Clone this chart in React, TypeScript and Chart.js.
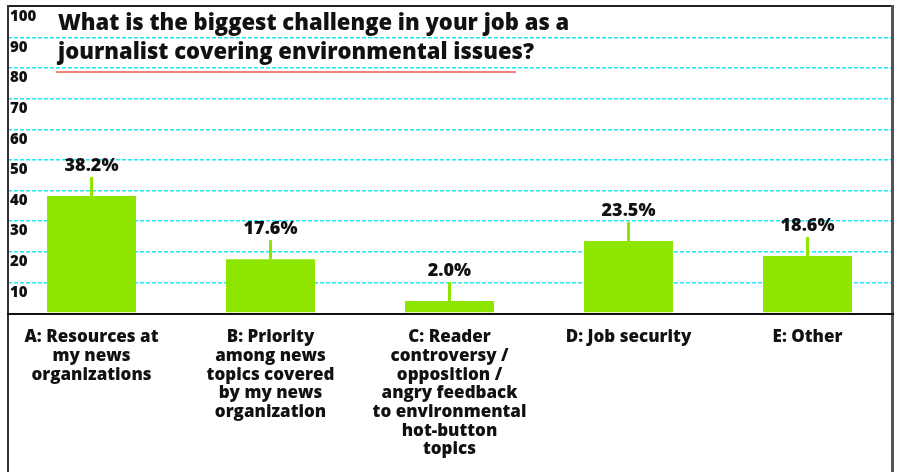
import React, { useEffect, useRef } from 'react';
import { Chart, registerables } from 'chart.js';

Chart.register(...registerables);

const categories: string[][] = [
  ['A: Resources at', 'my news', 'organizations'],
  ['B: Priority', 'among news', 'topics covered', 'by my news', 'organization'],
  ['C: Reader', 'controversy /', 'opposition /', 'angry feedback', 'to environmental', 'hot-button', 'topics'],
  ['D: Job security'],
  ['E: Other'],
];
const values: number[] = [38.2, 17.6, 2.0, 23.5, 18.6];
const valueLabels: string[] = ['38.2%', '17.6%', '2.0%', '23.5%', '18.6%'];
const titleLines: string[] = [
  'What is the biggest challenge in your job as a',
  'journalist covering environmental issues?',
];
const yMin = 0;
const yMax = 100;
const yStep = 10;

const FONT = '"Open Sans", "Liberation Sans", sans-serif';
const WEIGHT = '800';
const BAR_COLOR = '#8ee600';
const GRID_COLOR = '#1ee8f2';

const decorPlugin = {
  id: 'decor',
  afterDatasetsDraw(chart: any) {
    const ctx = chart.ctx;
    const meta = chart.getDatasetMeta(0);
    ctx.save();
    meta.data.forEach((bar: any, i: number) => {
      ctx.fillStyle = BAR_COLOR;
      ctx.fillRect(bar.x - 1.5, bar.y - 19, 3, 19);
      ctx.fillStyle = '#111';
      ctx.font = `${WEIGHT} 18px ${FONT}`;
      ctx.textAlign = 'center';
      ctx.textBaseline = 'middle';
      ctx.fillText(valueLabels[i], bar.x, bar.y - 30);
    });
    ctx.restore();
  },
  afterDraw(chart: any) {
    const ctx = chart.ctx;
    const y = chart.scales.y;
    const W = chart.width;
    const H = chart.height;
    ctx.save();
    ctx.fillStyle = '#fff';
    ctx.fillRect(0, 0, 7, H);
    ctx.fillRect(894, 0, W - 894, H);
    ctx.fillRect(0, 0, W, 5);
    ctx.fillStyle = '#222';
    ctx.fillRect(7, 5, 887, 2);
    ctx.fillStyle = '#333';
    ctx.fillRect(7, 5, 2, H - 5);
    ctx.fillStyle = '#555';
    ctx.fillRect(891, 5, 3, H - 5);
    const y0 = y.getPixelForValue(0);
    ctx.fillStyle = '#111';
    ctx.fillRect(7, y0, 887, 2);
    ctx.fillStyle = '#111';
    ctx.font = `${WEIGHT} 22px ${FONT}`;
    ctx.textAlign = 'left';
    ctx.textBaseline = 'alphabetic';
    ctx.fillText(titleLines[0], 58, 30);
    ctx.fillText(titleLines[1], 58, 59);
    ctx.fillStyle = '#f4837d';
    ctx.fillRect(56, 71, 460, 2);
    ctx.restore();
  },
};

export default function App() {
  const ref = useRef<HTMLCanvasElement | null>(null);
  useEffect(() => {
    if (!ref.current) return;
    const chart = new Chart(ref.current, {
      type: 'bar',
      data: {
        labels: categories,
        datasets: [
          {
            data: values,
            backgroundColor: BAR_COLOR,
            borderWidth: 0,
            barPercentage: 0.497,
            categoryPercentage: 1,
            minBarLength: 12,
          },
        ],
      },
      options: {
        responsive: false,
        animation: false,
        events: [],
        layout: { padding: { left: 2, right: 0, top: 7, bottom: 0 } },
        plugins: {
          legend: { display: false },
          tooltip: { enabled: false },
          title: { display: false },
        },
        scales: {
          x: {
            position: 'bottom',
            grid: { display: false, drawTicks: false },
            border: { display: false },
            ticks: {
              maxRotation: 0,
              minRotation: 0,
              autoSkip: false,
              padding: 15,
              color: '#111',
              font: { family: FONT, size: 17, weight: WEIGHT, lineHeight: 18.7 / 17 },
            },
            afterFit(scale: any) {
              scale.height = 159;
              scale.paddingLeft = 0;
              scale.paddingRight = 0;
            },
          },
          y: {
            position: 'left',
            min: yMin,
            max: yMax,
            grid: {
              drawTicks: false,
              lineWidth: 1.5,
              color: (c: any) =>
                c.tick && (c.tick.value === yMin || c.tick.value === yMax) ? 'rgba(0,0,0,0)' : GRID_COLOR,
            },
            border: { display: false, dash: [4, 2] },
            ticks: {
              stepSize: yStep,
              mirror: true,
              padding: 8,
              labelOffset: 10,
              color: '#111',
              font: { family: FONT, size: 15, weight: WEIGHT },
              callback: (v: any) => (v === yMin ? '' : String(v)),
            },
            afterFit(scale: any) {
              scale.width = 0;
              scale.paddingTop = 0;
              scale.paddingBottom = 0;
            },
          },
        },
      },
      plugins: [decorPlugin],
    });
    return () => chart.destroy();
  }, []);
  return (
    <div style={{ position: 'fixed', left: 0, top: 0, width: 897, height: 472, background: '#fff' }}>
      <canvas ref={ref} width={897} height={472} style={{ display: 'block' }} />
    </div>
  );
}
